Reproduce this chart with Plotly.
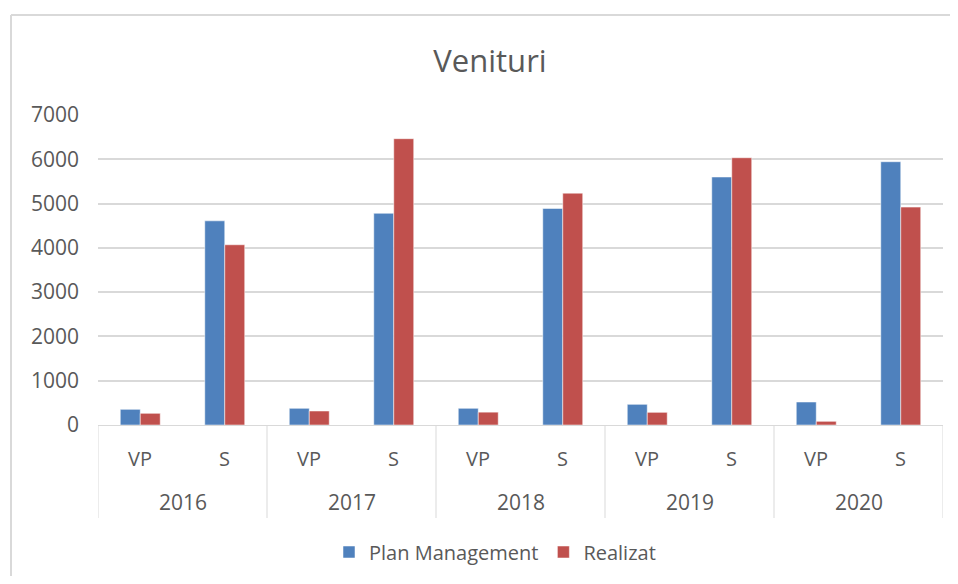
import plotly.graph_objects as go

years = ["2016", "2017", "2018", "2019", "2020"]
subcats = ["VP", "S"]
plan_management = [354, 4610, 377, 4780, 377, 4890, 467, 5600, 519, 5945]
realizat = [264, 4070, 316, 6465, 290, 5235, 286, 6035, 83, 4920]

# one category per (year, sub-category) pair; labels are drawn below as annotations
categories = [f"{y} {s}" for y in years for s in subcats]

font_family = "'Open Sans', 'Noto Sans', sans-serif"
grey_text = "#595959"
grid = "#D9D9D9"

# page has an 8px body margin; keep the figure inside the body box
W, H = 942, 568
L, R, T, B = 90, 7, 107, 151
plot_w = W - L - R
plot_h = H - T - B

fig = go.Figure(data=[
    go.Bar(name="Plan Management", x=categories, y=plan_management,
           marker=dict(color="#4F81BD", line=dict(color="rgba(255,255,255,0.5)", width=1))),
    go.Bar(name="Realizat", x=categories, y=realizat,
           marker=dict(color="#C0504D", line=dict(color="rgba(255,255,255,0.5)", width=1))),
])

annotations = []
for i, cat in enumerate(categories):
    annotations.append(dict(x=cat, y=0, xref="x", yref="paper", yshift=-33,
                            text=cat.split(" ")[1], showarrow=False, yanchor="middle",
                            font=dict(size=20, color=grey_text)))
for j, yr in enumerate(years):
    annotations.append(dict(x=2 * j + 0.5, y=0, xref="x", yref="paper", yshift=-77,
                            text=yr, showarrow=False, yanchor="middle",
                            font=dict(size=21, color=grey_text)))

shapes = []
for j in range(len(years) + 1):
    shapes.append(dict(type="line", xref="x", yref="paper",
                       x0=2 * j - 0.5, x1=2 * j - 0.5, y0=0, y1=-93 / plot_h,
                       line=dict(color=grid, width=1)))

# outer chart frame: only the left and top edges are visible in the window
frame_x = (3 - L) / plot_w
frame_top = (plot_h + T - 7) / plot_h
shapes.append(dict(type="line", xref="paper", yref="paper",
                   x0=frame_x, x1=frame_x, y0=-(B + 20) / plot_h, y1=frame_top,
                   line=dict(color=grid, width=2), layer="below"))
shapes.append(dict(type="line", xref="paper", yref="paper",
                   x0=frame_x, x1=(W + 20 - L) / plot_w, y0=frame_top, y1=frame_top,
                   line=dict(color=grid, width=2), layer="below"))

fig.update_layout(
    width=W, height=H,
    margin=dict(l=L, r=R, t=T, b=B, autoexpand=False),
    paper_bgcolor="white", plot_bgcolor="white",
    barmode="group", bargap=0.527, bargroupgap=0,
    font=dict(family=font_family, size=20, color=grey_text),
    title=dict(text="Venituri", x=482 / W, xref="container", xanchor="center",
               y=1 - 53 / H, yref="container", yanchor="middle",
               font=dict(size=31, color=grey_text)),
    legend=dict(orientation="h", x=487 / W, xref="container", xanchor="center",
                y=1 - 544 / H, yref="container", yanchor="middle",
                font=dict(size=20, color=grey_text), traceorder="normal",
                itemwidth=30),
    showlegend=True,
    xaxis=dict(type="category", showline=True, linecolor=grid, linewidth=1,
               showgrid=False, showticklabels=False, ticks="",
               range=[-0.5, len(categories) - 0.5]),
    yaxis=dict(range=[0, 7000], dtick=1000, showgrid=True, gridcolor=grid, gridwidth=1.5,
               zeroline=False, showline=False, ticks="", ticklabelstandoff=18,
               tickfont=dict(size=21, color=grey_text)),
    annotations=annotations,
    shapes=shapes,
)

fig.write_html("out.html")
